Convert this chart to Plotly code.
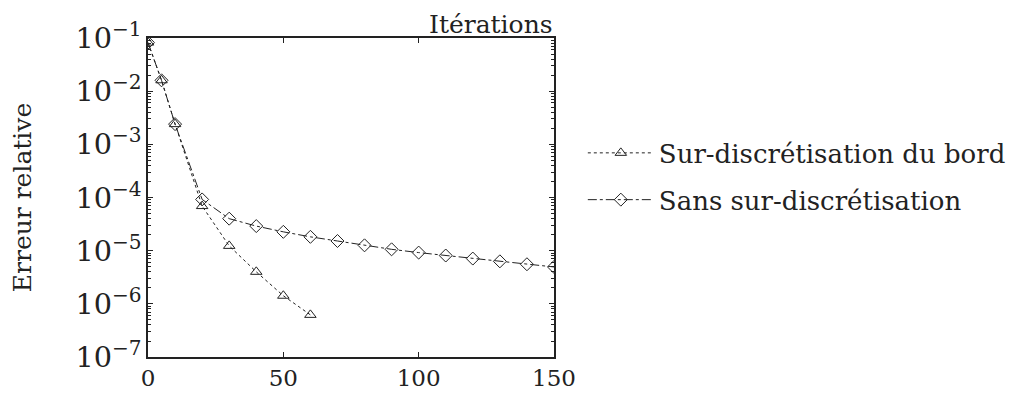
import plotly.graph_objects as go

# itérations
iter_bord = [0, 5, 10, 20, 30, 40, 50, 60]
iter_sans = [0, 5, 10, 20, 30, 40, 50, 60, 70, 80, 90, 100, 110, 120, 130, 140, 150]

# erreur relative
err_bord = [8.2e-2, 1.6e-2, 2.4e-3, 6.9e-5, 1.23e-5, 4.0e-6, 1.42e-6, 6.2e-7]
err_sans = [8.2e-2, 1.6e-2, 2.4e-3, 9.2e-5, 4.0e-5, 2.9e-5, 2.26e-5, 1.82e-5,
            1.52e-5, 1.26e-5, 1.06e-5, 9.2e-6, 8.1e-6, 7.1e-6, 6.3e-6, 5.55e-6, 4.94e-6]

police = "DejaVu Serif"
noir = "#222222"

fig = go.Figure()

fig.add_trace(go.Scatter(
    x=iter_bord, y=err_bord,
    mode="lines+markers",
    name="Sur-discrétisation du bord",
    legendgroup="a",
    line=dict(color=noir, width=1, dash="dot"),
    marker=dict(symbol="triangle-up-open", size=10, color=noir, line=dict(width=1)),
))

fig.add_trace(go.Scatter(
    x=iter_sans, y=err_sans,
    mode="lines+markers",
    name="Sans sur-discrétisation",
    legendgroup="b",
    line=dict(color=noir, width=1, dash="dashdot"),
    marker=dict(symbol="diamond-open", size=10, color=noir, line=dict(width=1)),
))

# la page ajoute une marge de 8 px : on décale tout vers le haut/gauche
fig.update_layout(
    width=1019, height=398,
    margin=dict(l=140, r=473, t=30, b=49),
    paper_bgcolor="white", plot_bgcolor="white",
    font=dict(family=police, size=23, color=noir),
    legend=dict(x=1.071, y=0.566, xanchor="left", yanchor="middle",
                font=dict(size=26), bgcolor="rgba(0,0,0,0)",
                tracegroupgap=10, itemwidth=66),
    annotations=[dict(text="Itérations", xref="paper", yref="paper",
                      x=1, y=1, xanchor="right", yanchor="bottom",
                      yshift=-2, borderpad=0,
                      showarrow=False, font=dict(size=25))],
)

fig.update_xaxes(
    range=[0, 150], tickvals=[0, 50, 100, 150],
    showgrid=False, zeroline=False, automargin=False,
    showline=True, linecolor=noir, linewidth=1.5, mirror="ticks",
    ticks="inside", ticklen=5, tickcolor=noir,
)

fig.update_yaxes(
    type="log", range=[-7, -1], dtick=1, exponentformat="power",
    showgrid=False, zeroline=False, automargin=False,
    showline=True, linecolor=noir, linewidth=1.5, mirror="ticks",
    ticks="inside", ticklen=5, tickcolor=noir,
    minor=dict(ticks="inside", ticklen=3, tickcolor=noir, showgrid=False),
    title=dict(text="Erreur relative", standoff=38, font=dict(size=25)),
)

fig.write_html("out.html")
